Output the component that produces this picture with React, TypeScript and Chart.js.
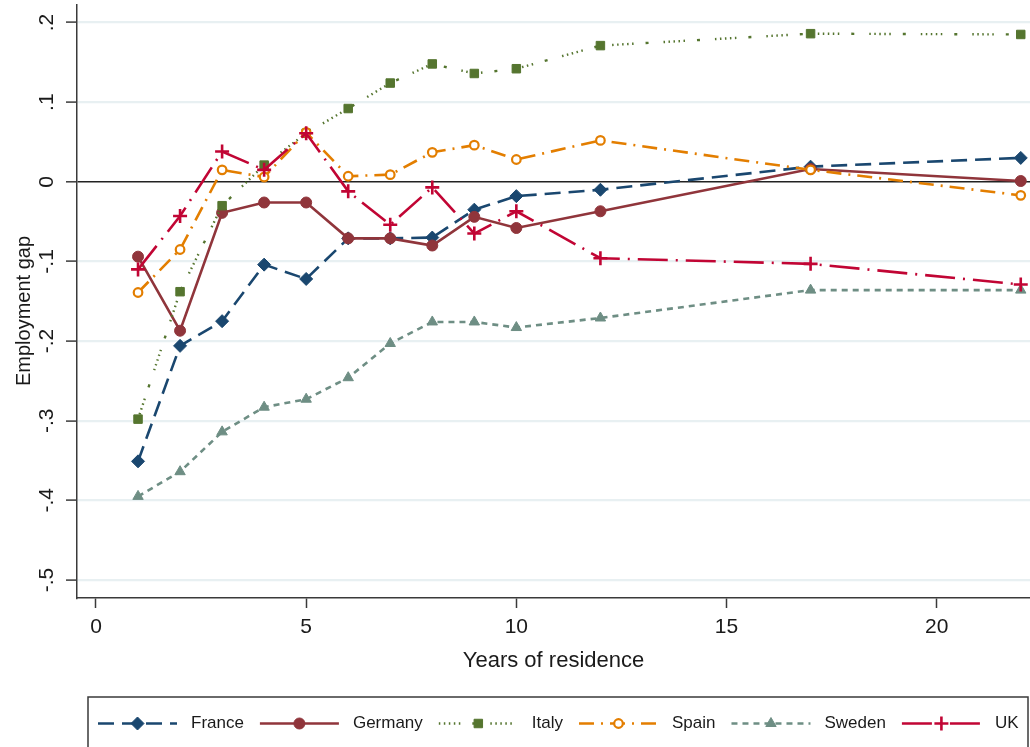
import React, { useEffect, useRef } from 'react';
import { Chart, registerables } from 'chart.js';

Chart.register(...registerables);

// ---- data ----
const YEARS = [1, 2, 3, 4, 5, 6, 7, 8, 9, 10, 12, 17, 22];
const FRANCE = [-0.351, -0.206, -0.175, -0.104, -0.122, -0.071, -0.071, -0.07, -0.035, -0.018, -0.01, 0.019, 0.03];
const GERMANY = [-0.094, -0.187, -0.039, -0.026, -0.026, -0.071, -0.071, -0.08, -0.044, -0.058, -0.037, 0.016, 0.001];
const ITALY = [-0.298, -0.138, -0.03, 0.021, 0.061, 0.092, 0.124, 0.148, 0.136, 0.142, 0.171, 0.186, 0.185];
const SPAIN = [-0.139, -0.085, 0.015, 0.006, 0.062, 0.007, 0.009, 0.037, 0.046, 0.028, 0.052, 0.015, -0.017];
const SWEDEN = [-0.395, -0.364, -0.314, -0.283, -0.273, -0.246, -0.203, -0.176, -0.176, -0.183, -0.171, -0.136, -0.136];
const UK = [-0.11, -0.043, 0.038, 0.015, 0.061, -0.012, -0.054, -0.007, -0.065, -0.037, -0.096, -0.103, -0.129];

const SERIES_NAMES = ['France', 'Germany', 'Italy', 'Spain', 'Sweden', 'UK'];
const SERIES_VALUES = [FRANCE, GERMANY, ITALY, SPAIN, SWEDEN, UK];

const X_TICKS = [0, 5, 10, 15, 20];
const X_TICK_LABELS = ['0', '5', '10', '15', '20'];
const Y_TICKS = [-0.5, -0.4, -0.3, -0.2, -0.1, 0, 0.1, 0.2];
const Y_TICK_LABELS = ['-.5', '-.4', '-.3', '-.2', '-.1', '0', '.1', '.2'];

const X_TITLE = 'Years of residence';
const Y_TITLE = 'Employment gap';

// ---- styles ----
const FONT = '"Liberation Sans", Arial, sans-serif';
const TEXT = '#1a1a1a';
const AXIS = '#3a3a3a';

type Style = {
  color: string;
  dash: number[];
  point: string;
  radius: number;
  fill: string;
  pointBorder: number;
  width: number;
};

const STYLES: Style[] = [
  { color: '#1a476f', dash: [16, 8], point: 'rectRot', radius: 6.5, fill: '#1a476f', pointBorder: 1, width: 2.6 },
  { color: '#90353b', dash: [], point: 'circle', radius: 5.5, fill: '#90353b', pointBorder: 1, width: 2.6 },
  { color: '#55752f', dash: [1.5, 3.5, 1.5, 3.5, 1.5, 3.5, 1.5, 3.5, 1.5, 12, 3, 15], point: 'rect', radius: 6, fill: '#55752f', pointBorder: 1, width: 2.4 },
  { color: '#e37e00', dash: [15, 7, 2, 7], point: 'circle', radius: 4.3, fill: '#ffffff', pointBorder: 2.2, width: 2.6 },
  { color: '#6e8e84', dash: [6, 5], point: 'triangle', radius: 6, fill: '#6e8e84', pointBorder: 1, width: 2.6 },
  { color: '#c10534', dash: [30, 8, 2, 8], point: 'cross', radius: 7, fill: '#c10534', pointBorder: 2.6, width: 2.6 },
];

function drawMarker(ctx: CanvasRenderingContext2D, s: Style, x: number, y: number) {
  const r = s.radius;
  ctx.save();
  ctx.setLineDash([]);
  ctx.fillStyle = s.fill;
  ctx.strokeStyle = s.color;
  ctx.lineWidth = s.pointBorder;
  ctx.beginPath();
  if (s.point === 'circle') {
    ctx.arc(x, y, r, 0, Math.PI * 2);
    ctx.fill();
    ctx.stroke();
  } else if (s.point === 'rectRot') {
    ctx.moveTo(x, y - r);
    ctx.lineTo(x + r, y);
    ctx.lineTo(x, y + r);
    ctx.lineTo(x - r, y);
    ctx.closePath();
    ctx.fill();
    ctx.stroke();
  } else if (s.point === 'rect') {
    const h = r * Math.SQRT1_2;
    ctx.rect(x - h, y - h, 2 * h, 2 * h);
    ctx.fill();
    ctx.stroke();
  } else if (s.point === 'triangle') {
    const side = (3 * r) / Math.sqrt(3);
    const height = (side * Math.sqrt(3)) / 2;
    ctx.moveTo(x - side / 2, y + height / 3);
    ctx.lineTo(x + side / 2, y + height / 3);
    ctx.lineTo(x, y - (2 * height) / 3);
    ctx.closePath();
    ctx.fill();
    ctx.stroke();
  } else if (s.point === 'cross') {
    ctx.moveTo(x, y - r);
    ctx.lineTo(x, y + r);
    ctx.moveTo(x - r, y);
    ctx.lineTo(x + r, y);
    ctx.stroke();
  }
  ctx.restore();
}

const overlayPlugin = {
  id: 'overlay',
  afterDraw(chart: any) {
    const ctx: CanvasRenderingContext2D = chart.ctx;
    const yScale = chart.scales.y;
    // y tick labels, rotated
    ctx.save();
    ctx.font = `21px ${FONT}`;
    ctx.fillStyle = TEXT;
    ctx.textAlign = 'center';
    ctx.textBaseline = 'middle';
    Y_TICKS.forEach((v, i) => {
      const py = yScale.getPixelForValue(v);
      ctx.save();
      ctx.translate(47, py);
      ctx.rotate(-Math.PI / 2);
      ctx.fillText(Y_TICK_LABELS[i], 0, 0);
      ctx.restore();
    });
    // y title
    ctx.font = `20px ${FONT}`;
    ctx.save();
    ctx.translate(24, 311);
    ctx.rotate(-Math.PI / 2);
    ctx.fillText(Y_TITLE, 0, 0);
    ctx.restore();
    ctx.restore();

    // legend
    ctx.save();
    ctx.strokeStyle = AXIS;
    ctx.lineWidth = 1.5;
    ctx.strokeRect(88, 697, 940, 56);
    const ly = 723.5;
    let x = 98;
    const sampleW = 79;
    ctx.font = `17px ${FONT}`;
    ctx.textBaseline = 'middle';
    ctx.textAlign = 'left';
    SERIES_NAMES.forEach((name, i) => {
      const s = STYLES[i];
      ctx.save();
      ctx.strokeStyle = s.color;
      ctx.lineWidth = s.width;
      ctx.setLineDash(s.dash);
      ctx.beginPath();
      ctx.moveTo(x, ly);
      ctx.lineTo(x + sampleW, ly);
      ctx.stroke();
      ctx.restore();
      drawMarker(ctx, s, x + sampleW / 2, ly);
      const tx = x + sampleW + 14;
      ctx.fillStyle = TEXT;
      ctx.fillText(name, tx, ly);
      x = tx + ctx.measureText(name).width + 16;
    });
    ctx.restore();
  },
};

export default function App() {
  const ref = useRef<HTMLCanvasElement | null>(null);

  useEffect(() => {
    document.body.style.margin = '0';
    const canvas = ref.current;
    if (!canvas) return;
    const datasets = SERIES_NAMES.map((name, i) => {
      const s = STYLES[i];
      return {
        label: name,
        data: YEARS.map((yr, j) => ({ x: yr, y: SERIES_VALUES[i][j] })),
        borderColor: s.color,
        borderWidth: s.width,
        borderDash: s.dash,
        backgroundColor: s.fill,
        pointStyle: s.point,
        pointRadius: s.radius,
        pointBackgroundColor: s.fill,
        pointBorderColor: s.color,
        pointBorderWidth: s.pointBorder,
        tension: 0,
        fill: false,
        clip: 10,
        order: 6 - i,
      };
    });

    const chart = new Chart(canvas, {
      type: 'line',
      data: { datasets },
      plugins: [overlayPlugin],
      options: {
        responsive: false,
        animation: false,
        devicePixelRatio: 1,
        layout: { autoPadding: false, padding: { top: 5, right: 0, left: 0, bottom: 67 } },
        plugins: { legend: { display: false }, tooltip: { enabled: false } },
        scales: {
          x: {
            type: 'linear',
            min: -0.452,
            max: 22.22,
            afterBuildTicks: (s: any) => {
              s.ticks = X_TICKS.map((v) => ({ value: v }));
            },
            afterFit: (s: any) => {
              s.height = 82;
            },
            grid: { drawOnChartArea: false, tickLength: 10, tickColor: AXIS, tickWidth: 1.5 },
            border: { color: AXIS, width: 1.5 },
            ticks: {
              font: { family: FONT, size: 21 },
              color: TEXT,
              padding: 7,
              maxRotation: 0,
              autoSkip: false,
              callback: (v: any) => {
                const k = X_TICKS.indexOf(Number(v));
                return k >= 0 ? X_TICK_LABELS[k] : '';
              },
            },
            title: {
              display: true,
              text: X_TITLE,
              color: TEXT,
              font: { family: FONT, size: 22 },
              padding: { top: 0, bottom: 6 },
            },
          },
          y: {
            type: 'linear',
            min: -0.5226,
            max: 0.222,
            afterBuildTicks: (s: any) => {
              s.ticks = Y_TICKS.map((v) => ({ value: v }));
            },
            afterFit: (s: any) => {
              s.width = 77;
            },
            grid: {
              color: (c: any) => (c.tick && c.tick.value === 0 ? '#222222' : '#e8f0f2'),
              lineWidth: (c: any) => (c.tick && c.tick.value === 0 ? 1.6 : 2.2),
              tickLength: 11,
              tickColor: AXIS,
              tickWidth: 1.5,
            },
            border: { color: AXIS, width: 1.5 },
            ticks: { display: false },
            title: { display: false },
          },
        },
      } as any,
    });
    return () => chart.destroy();
  }, []);

  return <canvas ref={ref} width={1030} height={747} style={{ display: 'block' }} />;
}
